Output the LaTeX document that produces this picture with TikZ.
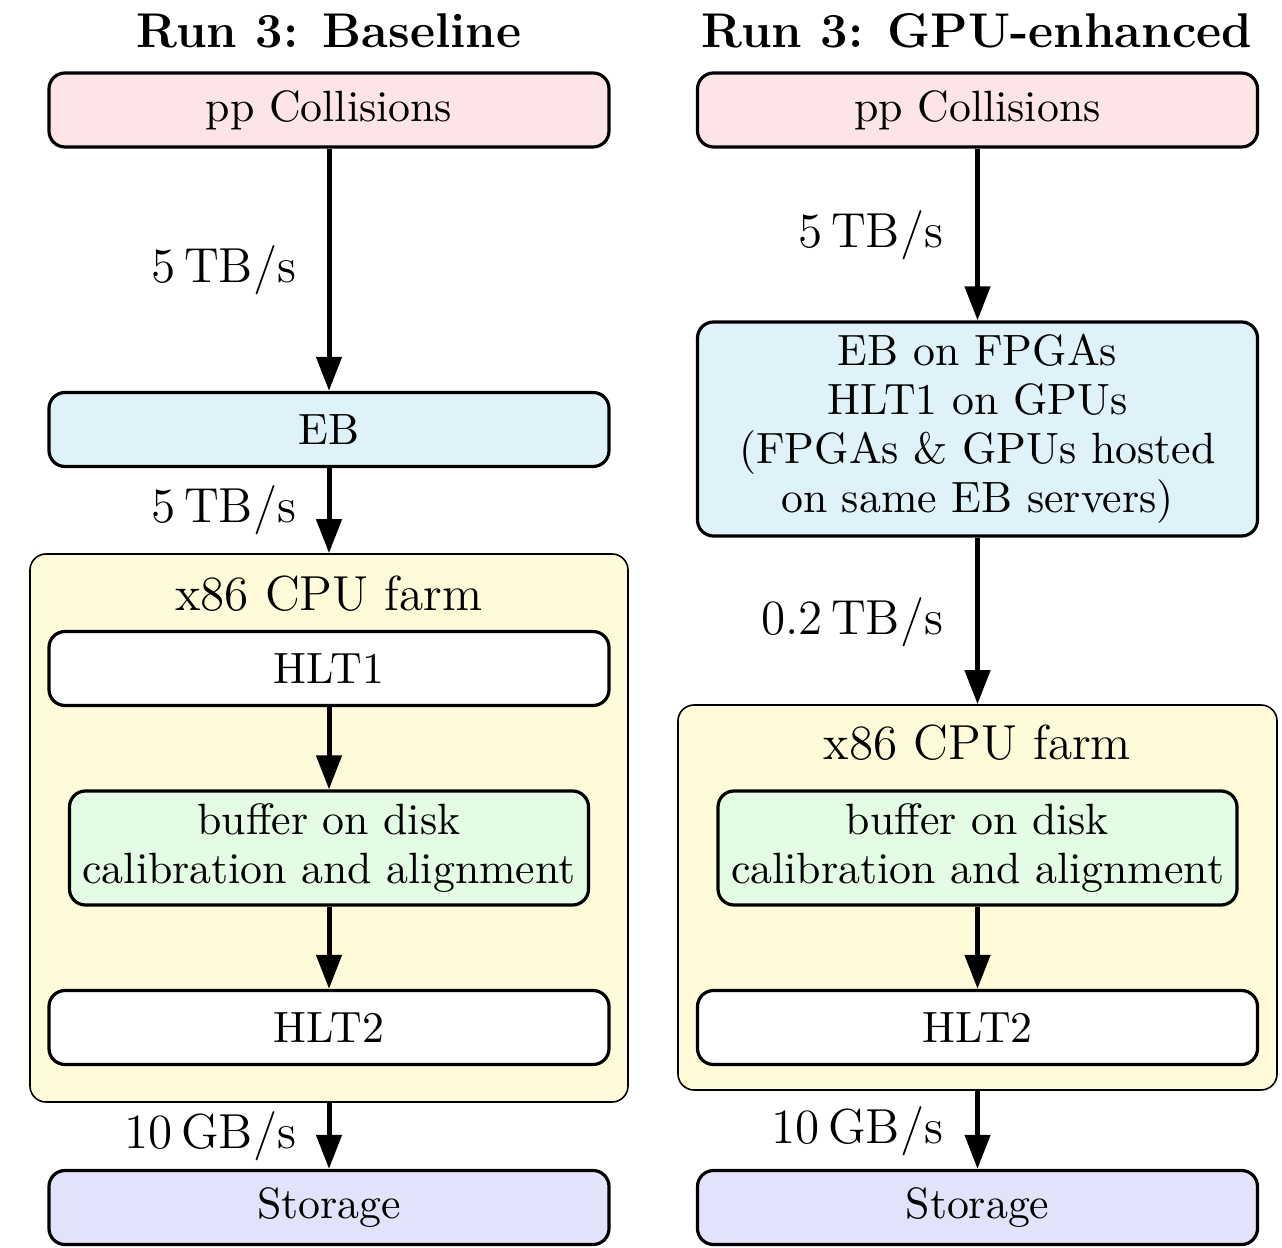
\documentclass[tikz,border=0pt]{standalone}
\usetikzlibrary{arrows.meta}
\definecolor{pinkfill}{RGB}{253,228,230}
\definecolor{bluefill}{RGB}{223,242,250}
\definecolor{greenfill}{RGB}{227,252,227}
\definecolor{yellowfill}{RGB}{255,250,215}
\definecolor{lavfill}{RGB}{226,226,250}
\tikzset{
  stage/.style={draw, thick, rounded corners=4pt, inner sep=0pt, minimum width=140pt, minimum height=18.5pt, align=center, font=\fontsize{10.95}{12.2}\selectfont},
  farmbox/.style={draw, rounded corners=4pt, fill=yellowfill, inner sep=0pt, minimum width=149.5pt},
  flow/.style={line width=1.25pt, -{Triangle[length=8.5pt,width=6.2pt]}},
  rate/.style={anchor=base east, inner sep=0pt, font=\fontsize{12.3}{14}\selectfont},
  title/.style={anchor=base, inner sep=0pt, font=\fontsize{12.2}{14}\selectfont\bfseries},
  farmlabel/.style={anchor=base, inner sep=0pt, font=\fontsize{12.3}{14}\selectfont}
}
\begin{document}
\begin{tikzpicture}[x=0.25pt, y=-0.25pt]
\useasboundingbox (0,0) rectangle (1282,1248);
% ---------- left column ----------
\node[title] (tL) at (329,48) {Run 3: Baseline};
\node[farmbox, minimum height=137pt] (farmL) at (329,828) {};
\node[farmlabel] (fL) at (329,611) {x86 CPU farm};
\node[stage, fill=pinkfill] (ppL) at (329,110) {pp Collisions};
\node[stage, fill=bluefill] (ebL) at (329,429.5) {EB};
\node[stage, fill=white] (h1L) at (329,668.5) {HLT1};
\node[stage, fill=greenfill, minimum width=129.75pt, minimum height=28.5pt] (bufL) at (329,848) {buffer on disk\\calibration and alignment};
\node[stage, fill=white] (h2L) at (329,1027.5) {HLT2};
\node[stage, fill=lavfill] (stL) at (329,1207.5) {Storage};
\draw[flow] (ppL.south) -- (ebL.north);
\draw[flow] (ebL.south) -- (farmL.north);
\draw[flow] (h1L.south) -- (bufL.north);
\draw[flow] (bufL.south) -- (h2L.north);
\draw[flow] (farmL.south) -- (stL.north);
\node[rate] (r1L) at (297,283) {5\,TB/s};
\node[rate] (r2L) at (297,523) {5\,TB/s};
\node[rate] (r3L) at (297,1148) {10\,GB/s};
% ---------- right column ----------
\node[title] (tR) at (977,48) {Run 3: GPU-enhanced};
\node[farmbox, minimum width=149.75pt, minimum height=96.25pt] (farmR) at (977.5,897.5) {};
\node[farmlabel] (fR) at (977.5,759) {x86 CPU farm};
\node[stage, fill=pinkfill] (ppR) at (977.5,110) {pp Collisions};
\node[stage, fill=bluefill, minimum height=53.5pt] (ebR) at (977.5,429) {EB on FPGAs\\HLT1 on GPUs\\(FPGAs \& GPUs hosted\\on same EB servers)};
\node[stage, fill=greenfill, minimum width=129.75pt, minimum height=28.5pt] (bufR) at (977.5,848) {buffer on disk\\calibration and alignment};
\node[stage, fill=white] (h2R) at (977.5,1027.5) {HLT2};
\node[stage, fill=lavfill] (stR) at (977.5,1207.5) {Storage};
\draw[flow] (ppR.south) -- (ebR.north);
\draw[flow] (ebR.south) -- (farmR.north);
\draw[flow] (bufR.south) -- (h2R.north);
\draw[flow] (farmR.south) -- (stR.north);
\node[rate] (r1R) at (944,248) {5\,TB/s};
\node[rate] (r2R) at (944,635) {0.2\,TB/s};
\node[rate] (r3R) at (944,1143) {10\,GB/s};
\end{tikzpicture}
\end{document}
